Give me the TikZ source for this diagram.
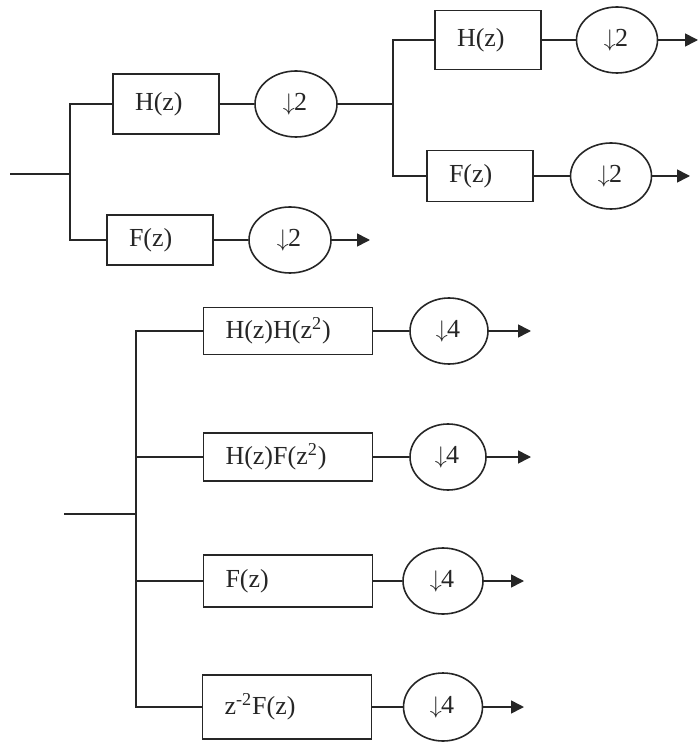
\documentclass[tikz,border=0pt]{standalone}
\usepackage{fontspec}
\setmainfont{Liberation Serif}
\usetikzlibrary{shapes.geometric,arrows.meta}
\newcommand{\dsmp}[1]{\kern-1pt$\downarrow$\kern-0.3pt#1}
\begin{document}
\begin{tikzpicture}[x=0.5pt,y=-0.5pt, line width=0.8pt, color=black!85,
  every node/.style={font=\fontsize{13}{15}\selectfont},
  box/.style={draw,rectangle,inner xsep=11pt,text width=31pt,align=left},
  wbox/.style={box,text width=62.5pt},
  dn/.style={draw,ellipse,inner sep=0pt,minimum width=41pt,minimum height=33pt},
  outarr/.style={-{Triangle[length=6.5pt,width=6.5pt]}}]
\useasboundingbox (0,0) rectangle (699,742);
% upper tree: two-level split
\coordinate (in1) at (10,174); \coordinate (j1) at (70,174);
\node[box,minimum height=30pt] (h1) at (166,104) {H(z)};
\node[dn] (d1) at (296,104) {\dsmp{2}};
\node[box,minimum height=25pt] (f1) at (160,240) {F(z)};
\node[dn] (d3) at (290,240) {\dsmp{2}};
\coordinate (j2) at (393,104);
\node[box,minimum height=29.5pt] (h2) at (488,40) {H(z)};
\node[dn,minimum width=40.5pt] (d2) at (617,40) {\dsmp{2}};
\node[box,minimum height=25.5pt] (f2) at (480,176) {F(z)};
\node[dn,minimum width=40.5pt] (d4) at (611,176) {\dsmp{2}};
\coordinate (o1) at (698,40); \coordinate (o2) at (690,176); \coordinate (o3) at (370,240);
\draw (in1) -- (j1); \draw (j1) |- (h1); \draw (j1) |- (f1);
\draw (h1) -- (d1); \draw (f1) -- (d3); \draw[outarr] (d3) -- (o3);
\draw (d1) -- (j2); \draw (j2) |- (h2); \draw (j2) |- (f2);
\draw (h2) -- (d2); \draw[outarr] (d2) -- (o1);
\draw (f2) -- (d4); \draw[outarr] (d4) -- (o2);
% lower tree: equivalent four-band bank
\coordinate (in2) at (64,514); \coordinate (j3) at (136,514);
\node[wbox,minimum height=23.5pt] (b1) at (288,331) {H(z)H(z\textsuperscript{2})};
\node[wbox,minimum height=24pt] (b2) at (288,457) {H(z)F(z\textsuperscript{2})};
\node[wbox,minimum height=26pt] (b3) at (288,581) {F(z)};
\node[wbox,minimum height=32pt] (b4) at (287,707) {z\textsuperscript{-2}F(z)};
\node[dn,minimum width=39pt] (e1) at (449,331) {\dsmp{4}};
\node[dn,minimum width=38pt] (e2) at (448,457) {\dsmp{4}};
\node[dn,minimum width=40pt] (e3) at (443,581) {\dsmp{4}};
\node[dn,minimum width=39.5pt,minimum height=34pt] (e4) at (443,707) {\dsmp{4}};
\coordinate (p1) at (531,331); \coordinate (p2) at (531,457);
\coordinate (p3) at (524,581); \coordinate (p4) at (524,707);
\draw (in2) -- (j3); \draw (j3) |- (b1); \draw (j3) |- (b2); \draw (j3) |- (b3); \draw (j3) |- (b4);
\draw (b1) -- (e1); \draw[outarr] (e1) -- (p1);
\draw (b2) -- (e2); \draw[outarr] (e2) -- (p2);
\draw (b3) -- (e3); \draw[outarr] (e3) -- (p3);
\draw (b4) -- (e4); \draw[outarr] (e4) -- (p4);
\end{tikzpicture}
\end{document}
